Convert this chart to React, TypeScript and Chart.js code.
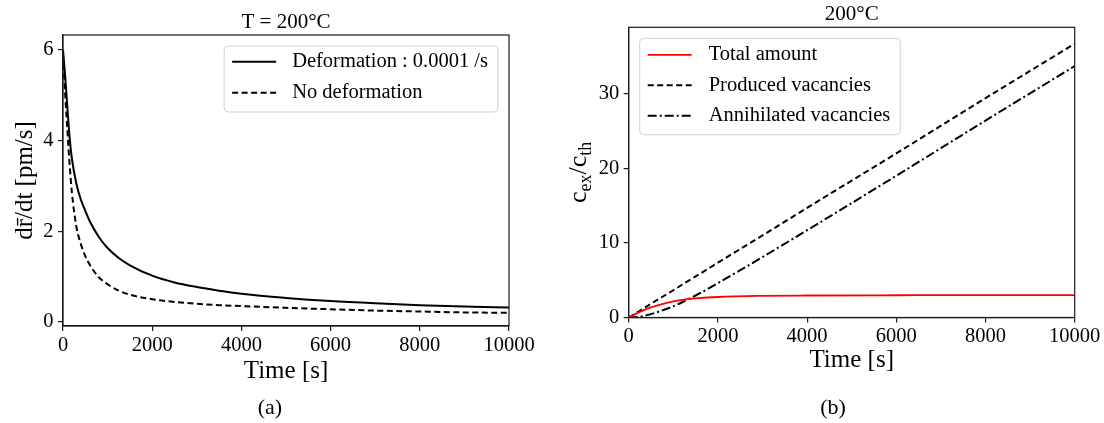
import React, { useEffect, useRef } from 'react';
import { Chart, registerables } from 'chart.js';

Chart.register(...registerables);

const FONT = "'Liberation Serif', 'Times New Roman', 'DejaVu Serif', serif";
const INK = '#1a1a1a';

// ---- Panel (a): coarsening rate of the mean radius at 200°C ----
const timeA = [0, 50, 100, 150, 200, 300, 400, 500, 600, 800, 1000, 1250, 1500, 2000, 2500, 3000, 3500, 4000, 5000, 6000, 7000, 8000, 9000, 10000];
const rateDeformed = [6.0, 5.4, 4.7, 4.05, 3.6, 3.05, 2.7, 2.45, 2.22, 1.88, 1.63, 1.41, 1.25, 1.02, 0.87, 0.77, 0.69, 0.62, 0.53, 0.46, 0.41, 0.37, 0.34, 0.32];
const rateUndeformed = [5.9, 5.0, 4.2, 3.45, 2.85, 2.1, 1.72, 1.45, 1.26, 0.99, 0.83, 0.69, 0.6, 0.5, 0.44, 0.4, 0.37, 0.35, 0.31, 0.28, 0.25, 0.23, 0.21, 0.2];
const yTicksA = [0, 2, 4, 6];

// ---- Panel (b): excess vacancy concentration at 200°C ----
const timeB = [0, 250, 500, 750, 1000, 1250, 1500, 2000, 3000, 4000, 6000, 8000, 10000];
const totalAmount = [0, 0.75, 1.35, 1.8, 2.15, 2.4, 2.55, 2.75, 2.9, 2.95, 2.98, 3.0, 3.0];
const producedVacancies = [0, 0.9, 1.85, 2.75, 3.65, 4.6, 5.5, 7.35, 11.0, 14.7, 22.0, 29.4, 36.7];
const annihilatedVacancies = [0, 0.12, 0.45, 0.95, 1.5, 2.2, 2.95, 4.6, 8.1, 11.7, 19.0, 26.4, 33.7];
const yTicksB = [0, 10, 20, 30];

const xTicks = [0, 2000, 4000, 6000, 8000, 10000];

const toPoints = (xs: number[], ys: number[]) => xs.map((x, i) => ({ x, y: ys[i] }));
const plainNumber = (v: any) => String(v);

// Closes the axes box on the top and right sides.
const axesFrame = {
  id: 'axesFrame',
  afterDatasetsDraw(chart: any) {
    const { ctx, chartArea: a } = chart;
    ctx.save();
    ctx.strokeStyle = INK;
    ctx.lineWidth = 1.2;
    ctx.strokeRect(a.left, a.top, a.right - a.left, a.bottom - a.top);
    ctx.restore();
  },
};

// Framed legend drawn inside the plot area.
const boxedLegend = {
  id: 'boxedLegend',
  afterDatasetsDraw(chart: any, _args: any, opts: any) {
    if (!opts || !opts.corner) return;
    const { ctx, chartArea: a } = chart;
    const items = chart.data.datasets;
    ctx.save();
    ctx.font = `${opts.fontSize}px ${FONT}`;
    const textW = Math.max(...items.map((d: any) => ctx.measureText(d.label).width));
    const w = opts.textOffset + textW + opts.rightPad;
    const h = items.length * opts.rowHeight + opts.extraHeight;
    const x = opts.corner === 'right' ? a.right - opts.margin - w : a.left + opts.margin;
    const y = a.top + opts.margin;
    ctx.beginPath();
    ctx.roundRect(x, y, w, h, 4);
    ctx.fillStyle = 'rgba(255,255,255,0.8)';
    ctx.fill();
    ctx.strokeStyle = '#d0d0d0';
    ctx.lineWidth = 1;
    ctx.stroke();
    items.forEach((d: any, i: number) => {
      const cy = y + opts.firstRow + i * opts.rowHeight;
      ctx.beginPath();
      ctx.setLineDash(d.borderDash || []);
      ctx.strokeStyle = d.borderColor;
      ctx.lineWidth = d.borderWidth;
      ctx.moveTo(x + 8, cy);
      ctx.lineTo(x + 52, cy);
      ctx.stroke();
      ctx.setLineDash([]);
      ctx.fillStyle = '#000';
      ctx.textBaseline = 'middle';
      ctx.textAlign = 'left';
      ctx.font = `${opts.fontSize}px ${FONT}`;
      ctx.fillText(d.label, x + opts.textOffset, cy);
    });
    ctx.restore();
  },
};

// Rotated axis label with subscripts (c_ex / c_th).
const subscriptLabel = {
  id: 'subscriptLabel',
  afterDraw(chart: any, _args: any, opts: any) {
    if (!opts || !opts.parts) return;
    const { ctx, chartArea: a } = chart;
    ctx.save();
    ctx.translate(opts.baselineX, (a.top + a.bottom) / 2);
    ctx.rotate(-Math.PI / 2);
    ctx.fillStyle = '#000';
    ctx.textBaseline = 'alphabetic';
    ctx.textAlign = 'left';
    const parts = opts.parts.map((p: any) => {
      ctx.font = `${p.sub ? opts.subSize : opts.size}px ${FONT}`;
      return { ...p, w: ctx.measureText(p.text).width };
    });
    const total = parts.reduce((s: number, p: any) => s + p.w, 0);
    let cx = -total / 2;
    parts.forEach((p: any) => {
      ctx.font = `${p.sub ? opts.subSize : opts.size}px ${FONT}`;
      ctx.fillText(p.text, cx, p.sub ? opts.subDrop : 0);
      cx += p.w;
    });
    ctx.restore();
  },
};

function axisX(height: number, titleBottom: number) {
  return {
    type: 'linear' as const,
    min: 0,
    max: 10000,
    afterBuildTicks: (s: any) => { s.ticks = xTicks.map((v) => ({ value: v })); },
    afterFit: (s: any) => { s.height = height; },
    grid: { display: true, drawOnChartArea: false, drawTicks: true, tickLength: 5, color: INK, lineWidth: 1.2 },
    border: { display: true, color: INK, width: 1.2 },
    ticks: { autoSkip: false, maxRotation: 0, padding: 2, color: '#000', font: { family: FONT, size: 20.5 }, callback: plainNumber },
    title: { display: true, text: 'Time [s]', color: '#000', font: { family: FONT, size: 25 }, padding: { top: 0, bottom: titleBottom } },
  };
}

function axisY(width: number, min: number, max: number, ticks: number[], title: any) {
  return {
    type: 'linear' as const,
    min,
    max,
    afterBuildTicks: (s: any) => { s.ticks = ticks.map((v) => ({ value: v })); },
    afterFit: (s: any) => { s.width = width; },
    grid: { display: true, drawOnChartArea: false, drawTicks: true, tickLength: 5, color: INK, lineWidth: 1.2 },
    border: { display: true, color: INK, width: 1.2 },
    ticks: { autoSkip: false, padding: 4.5, color: '#000', font: { family: FONT, size: 20.5 }, callback: plainNumber },
    title,
  };
}

function RateChart() {
  const ref = useRef<HTMLCanvasElement>(null);
  useEffect(() => {
    const chart = new Chart(ref.current!, {
      type: 'line',
      data: {
        datasets: [
          {
            label: 'Deformation : 0.0001 /s',
            data: toPoints(timeA, rateDeformed),
            borderColor: '#000',
            borderWidth: 2,
            pointRadius: 0,
            cubicInterpolationMode: 'monotone',
          },
          {
            label: 'No deformation',
            data: toPoints(timeA, rateUndeformed),
            borderColor: '#000',
            borderWidth: 2,
            borderDash: [6, 3.5],
            pointRadius: 0,
            cubicInterpolationMode: 'monotone',
          },
        ],
      },
      options: {
        responsive: false,
        animation: false,
        layout: { padding: { left: 0, right: 51, top: 0, bottom: 0 } },
        scales: {
          x: axisX(97, 37),
          y: axisY(63, -0.09, 6.33, yTicksA, {
            display: true,
            text: 'dr\u0304/dt [pm/s]',
            color: '#000',
            font: { family: FONT, size: 25 },
            padding: { top: 10, bottom: 0 },
          }),
        },
        plugins: {
          legend: { display: false },
          tooltip: { enabled: false },
          title: {
            display: true,
            text: 'T = 200°C',
            color: '#000',
            fullSize: false,
            font: { family: FONT, size: 21, weight: 'normal' },
            padding: { top: 9.5, bottom: 0.3 },
          },
          boxedLegend: { corner: 'right', margin: 11, fontSize: 20.5, rowHeight: 31, firstRow: 15.8, extraHeight: 4, textOffset: 68, rightPad: 10 },
        } as any,
      },
      plugins: [axesFrame, boxedLegend],
    });
    return () => chart.destroy();
  }, []);
  return <canvas ref={ref} width={560} height={423} style={{ width: 560, height: 423, display: 'block' }} />;
}

function VacancyChart() {
  const ref = useRef<HTMLCanvasElement>(null);
  useEffect(() => {
    const chart = new Chart(ref.current!, {
      type: 'line',
      data: {
        datasets: [
          {
            label: 'Total amount',
            data: toPoints(timeB, totalAmount),
            borderColor: '#ff0000',
            borderWidth: 1.8,
            pointRadius: 0,
            cubicInterpolationMode: 'monotone',
          },
          {
            label: 'Produced vacancies',
            data: toPoints(timeB, producedVacancies),
            borderColor: '#000',
            borderWidth: 2,
            borderDash: [6, 3.5],
            pointRadius: 0,
            cubicInterpolationMode: 'monotone',
          },
          {
            label: 'Annihilated vacancies',
            data: toPoints(timeB, annihilatedVacancies),
            borderColor: '#000',
            borderWidth: 2,
            borderDash: [9, 3, 2, 3],
            pointRadius: 0,
            cubicInterpolationMode: 'monotone',
          },
        ],
      },
      options: {
        responsive: false,
        animation: false,
        layout: { padding: { left: 0, right: 29.3, top: 0, bottom: 0 } },
        scales: {
          x: axisX(105.5, 47.6),
          y: axisY(68.7, 0, 38.9, yTicksB, { display: false }),
        },
        plugins: {
          legend: { display: false },
          tooltip: { enabled: false },
          title: {
            display: true,
            text: '200°C',
            color: '#000',
            fullSize: false,
            font: { family: FONT, size: 21, weight: 'normal' },
            padding: { top: 1.5, bottom: 0.6 },
          },
          boxedLegend: { corner: 'left', margin: 11, fontSize: 20.5, rowHeight: 30.5, firstRow: 16.5, extraHeight: 5, textOffset: 69, rightPad: 10 },
          subscriptLabel: {
            baselineX: 26,
            size: 26,
            subSize: 18,
            subDrop: 5,
            parts: [
              { text: 'c' },
              { text: 'ex', sub: true },
              { text: '/c' },
              { text: 'th', sub: true },
            ],
          },
        } as any,
      },
      plugins: [axesFrame, boxedLegend, subscriptLabel],
    });
    return () => chart.destroy();
  }, []);
  return <canvas ref={ref} width={544} height={423} style={{ width: 544, height: 423, display: 'block' }} />;
}

const captionStyle: React.CSSProperties = {
  position: 'absolute',
  top: 394,
  width: 100,
  textAlign: 'center',
  fontFamily: FONT,
  fontSize: 22,
  lineHeight: '26px',
  color: '#000',
};

export default function App() {
  return (
    <div style={{ position: 'fixed', left: 0, top: 0, width: 1104, height: 423, background: '#fff', overflow: 'hidden' }}>
      <div style={{ position: 'absolute', left: 0, top: 0 }}>
        <RateChart />
      </div>
      <div style={{ position: 'absolute', left: 560, top: 0 }}>
        <VacancyChart />
      </div>
      <div style={{ ...captionStyle, left: 220 }}>(a)</div>
      <div style={{ ...captionStyle, left: 783 }}>(b)</div>
    </div>
  );
}
